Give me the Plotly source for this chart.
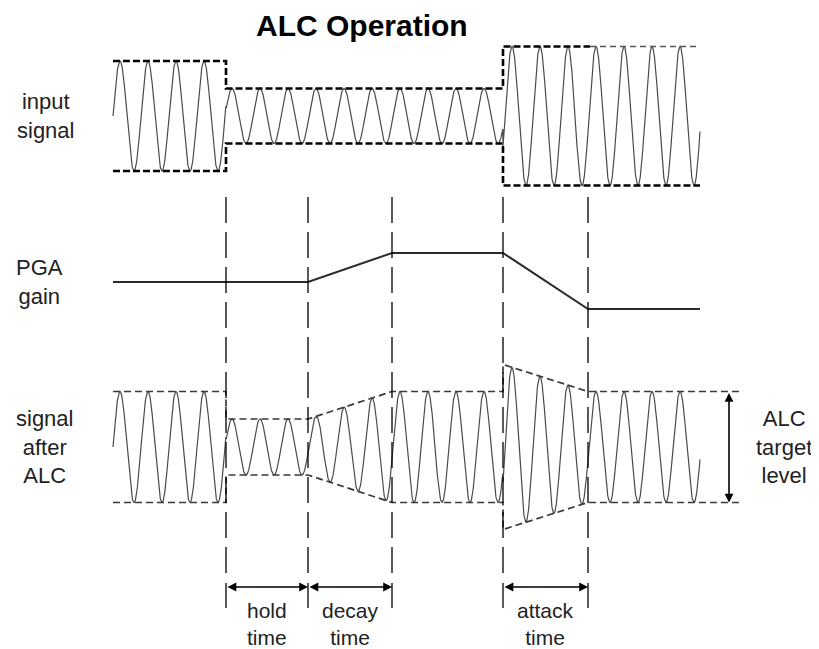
import numpy as np
import plotly.graph_objects as go

# ---- data (pixel-space diagram units) ----
title = "ALC Operation"
signal_start = 113
signal_end = 700
carrier_period = 28

markers_x = [226, 308, 392, 503, 588]

input_center = 116
input_env_x = [113, 226, 226, 503, 503, 700]
input_env_amp = [55, 55, 27.5, 27.5, 69.5, 69.5]
input_faint_from = 590

alc_center = 447
alc_env_x = [113, 226, 226, 308, 392, 503, 503, 588, 743]
alc_env_amp = [55.5, 55.5, 28, 28, 55.5, 55.5, 82.5, 55.5, 55.5]

pga_x = [113, 308, 392, 503, 588, 700]
pga_y = [282, 282, 253, 253, 309, 309]

guide_top, guide_bottom = 197, 573
tick_top, tick_bottom = 583, 608
arrow_y = 587
spans = [(226, 308, "hold<br>time"), (308, 392, "decay<br>time"), (503, 588, "attack<br>time")]

row_labels = [("input<br>signal", 45, input_center),
              ("PGA<br>gain", 39, 282),
              ("signal<br>after<br>ALC", 44, alc_center)]
target_label = ("ALC<br>target<br>level", 784, alc_center)
target_arrow_x = 729

FONT = "Liberation Sans, Arial, sans-serif"
PAGE_OFFSET = 8  # browser body margin

fig = go.Figure()

def carrier(center, env_x, env_amp):
    x = np.linspace(signal_start, signal_end, 2400)
    amp = np.interp(x, env_x, env_amp)
    y = center - amp * np.sin(2 * np.pi * (x - signal_start) / carrier_period)
    return x, y

# input signal carrier
xs, ys = carrier(input_center, input_env_x, input_env_amp)
fig.add_trace(go.Scatter(x=xs, y=ys, mode="lines", line=dict(color="#4a4a4a", width=1.2), hoverinfo="skip"))
# ALC output carrier
xs, ys = carrier(alc_center, alc_env_x, alc_env_amp)
fig.add_trace(go.Scatter(x=xs, y=ys, mode="lines", line=dict(color="#4a4a4a", width=1.2), hoverinfo="skip"))

# input envelope (thick black dashed)
ix = np.array(input_env_x, dtype=float)
ia = np.array(input_env_amp, dtype=float)
top_x = list(ix[ix < input_faint_from]) + [input_faint_from]
top_y = [input_center - a for a in ia[ix < input_faint_from]] + [input_center - ia[-1]]
bot_y = [input_center + a for a in ia]
fig.add_trace(go.Scatter(x=top_x, y=top_y, mode="lines",
                         line=dict(color="black", width=2.6, dash="7px,3px"), hoverinfo="skip"))
fig.add_trace(go.Scatter(x=[input_faint_from, ix[-1]], y=[input_center - ia[-1]] * 2, mode="lines",
                         line=dict(color="#555", width=1.6, dash="6px,4px"), hoverinfo="skip"))
fig.add_trace(go.Scatter(x=list(ix), y=bot_y, mode="lines",
                         line=dict(color="black", width=2.6, dash="7px,3px"), hoverinfo="skip"))

# ALC envelope (thinner dashed)
ax_ = np.array(alc_env_x, dtype=float)
aa = np.array(alc_env_amp, dtype=float)
for sign in (-1, 1):
    fig.add_trace(go.Scatter(x=list(ax_), y=list(alc_center + sign * aa), mode="lines",
                             line=dict(color="#3a3a3a", width=1.7, dash="7px,4px"), hoverinfo="skip"))

# PGA gain
fig.add_trace(go.Scatter(x=pga_x, y=pga_y, mode="lines", line=dict(color="#2a2a2a", width=2), hoverinfo="skip"))

# vertical guide lines
gx, gy = [], []
for m in markers_x:
    gx += [m, m, None]
    gy += [guide_top, guide_bottom, None]
fig.add_trace(go.Scatter(x=gx, y=gy, mode="lines",
                         line=dict(color="black", width=1.3, dash="26px,9px"), hoverinfo="skip"))

# bracket ticks
tx, ty = [], []
for m in markers_x:
    tx += [m, m, None]
    ty += [tick_top, tick_bottom, None]
fig.add_trace(go.Scatter(x=tx, y=ty, mode="lines", line=dict(color="black", width=1.3), hoverinfo="skip"))

annotations = []
for x0, x1, label in spans:
    annotations.append(dict(x=x1, y=arrow_y, ax=x0, ay=arrow_y, xref="x", yref="y", axref="x", ayref="y",
                            text="", showarrow=True, arrowhead=2, arrowside="end+start",
                            arrowsize=1.1, arrowwidth=1.6, arrowcolor="black", standoff=0, startstandoff=0))
    annotations.append(dict(x=(x0 + x1) / 2, y=624, xref="x", yref="y", text=label, showarrow=False,
                            font=dict(family=FONT, size=21, color="#222"), yanchor="middle"))

annotations.append(dict(x=target_arrow_x, y=alc_center + aa[-1], ax=target_arrow_x, ay=alc_center - aa[-1],
                        xref="x", yref="y", axref="x", ayref="y", text="", showarrow=True, arrowhead=2,
                        arrowside="end+start", arrowsize=1.1, arrowwidth=1.6, arrowcolor="black",
                        standoff=0, startstandoff=0))

for text, x, y in row_labels + [target_label]:
    annotations.append(dict(x=x, y=y, xref="x", yref="y", text=text, showarrow=False,
                            font=dict(family=FONT, size=22, color="#222"), yanchor="middle", align="center"))

annotations.append(dict(x=362, y=25, xref="x", yref="y", text="<b>" + title + "</b>", showarrow=False,
                        font=dict(family=FONT, size=30, color="black"), yanchor="middle"))

fig.update_layout(
    width=819 - PAGE_OFFSET, height=649 - PAGE_OFFSET,
    margin=dict(l=0, r=0, t=0, b=0),
    paper_bgcolor="white", plot_bgcolor="white",
    showlegend=False,
    xaxis=dict(range=[PAGE_OFFSET, 819], visible=False, fixedrange=True),
    yaxis=dict(range=[649, PAGE_OFFSET], visible=False, fixedrange=True),
    annotations=annotations,
)

fig.write_html("out.html")
